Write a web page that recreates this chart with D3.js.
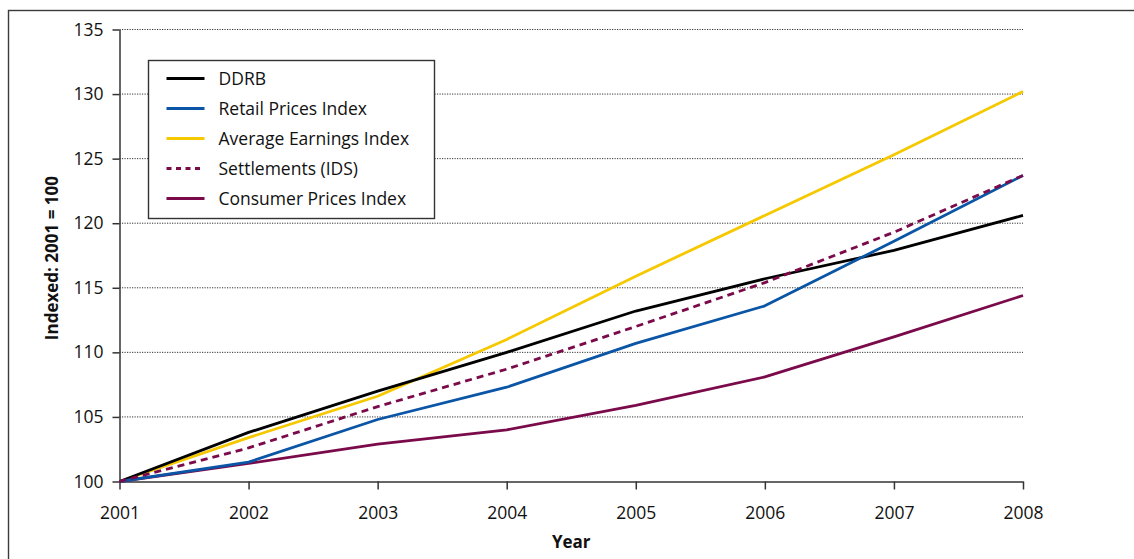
<!DOCTYPE html>
<html>
<head>
<meta charset="utf-8">
<script src="https://cdn.jsdelivr.net/npm/d3@7"></script>
<style>
  body { margin: 0; background: #fff; }
  svg { display: block; font-family: "Open Sans", "Noto Sans", sans-serif; }
</style>
</head>
<body>
<svg id="chart" width="1134" height="559"></svg>
<script>
// Index series, 2001 = 100
const years = [2001, 2002, 2003, 2004, 2005, 2006, 2007, 2008];
const ddrb        = [100, 103.8, 107.0, 110.0, 113.2, 115.7, 117.9, 120.6];
const retailPI    = [100, 101.5, 104.8, 107.3, 110.7, 113.6, 118.6, 123.7];
const earningsIdx = [100, 103.4, 106.6, 111.0, 115.9, 120.6, 125.3, 130.2];
const settlements = [100, 102.6, 105.8, 108.7, 112.0, 115.4, 119.3, 123.7];
const consumerPI  = [100, 101.4, 102.9, 104.0, 105.9, 108.1, 111.2, 114.4];
const yTicks = [100, 105, 110, 115, 120, 125, 130, 135];

const series = [
  { name: "DDRB", values: ddrb, color: "#000000", dash: null },
  { name: "Retail Prices Index", values: retailPI, color: "#0a55a5", dash: null },
  { name: "Average Earnings Index", values: earningsIdx, color: "#f5c800", dash: null },
  { name: "Settlements (IDS)", values: settlements, color: "#7a0a4a", dash: "7,5" },
  { name: "Consumer Prices Index", values: consumerPI, color: "#7a0a4a", dash: null }
];
// draw order: solid lines first, dashed on top of the blue
const drawOrder = [2, 0, 4, 1, 3];

const svg = d3.select("#chart");
const FONT = "\"Open Sans\", sans-serif";

// outer frame
svg.append("rect")
  .attr("x", 8.5).attr("y", 10.5)
  .attr("width", 1140).attr("height", 560)
  .attr("fill", "none").attr("stroke", "#3a3a3a").attr("stroke-width", 1.4);

const x = d3.scaleLinear().domain([2001, 2008]).range([119.5, 1023]);
const y = d3.scaleLinear().domain([100, 135]).range([481.5, 29.5]);

// dotted gridlines
svg.append("g").selectAll("line")
  .data(yTicks.filter(v => v > 100))
  .join("line")
  .attr("x1", x(2001)).attr("x2", x(2008))
  .attr("y1", d => y(d)).attr("y2", d => y(d))
  .attr("stroke", "#333").attr("stroke-width", 1)
  .attr("stroke-dasharray", "1.2,1.3");

// axes
const yAxis = svg.append("g")
  .attr("transform", `translate(${x(2001)},0)`)
  .call(d3.axisLeft(y).tickValues(yTicks).tickSize(7).tickPadding(9).tickSizeOuter(0));
const xAxis = svg.append("g")
  .attr("transform", `translate(0,${y(100)})`)
  .call(d3.axisBottom(x).tickValues(years).tickFormat(d3.format("d")).tickSize(8).tickPadding(17).tickSizeOuter(0));

[yAxis, xAxis].forEach(g => {
  g.attr("font-family", FONT).attr("font-size", 17.5);
  g.select(".domain").attr("stroke", "#333").attr("stroke-width", 1.5);
  g.selectAll(".tick line").attr("stroke", "#333").attr("stroke-width", 1.5);
  g.selectAll(".tick text").attr("fill", "#111");
});

// axis titles
svg.append("text")
  .attr("x", x(2004.5)).attr("y", 548)
  .attr("text-anchor", "middle")
  .attr("font-size", 17).attr("font-weight", "bold").attr("fill", "#111")
  .text("Year");
svg.append("text")
  .attr("transform", `translate(58,${y(117.3)}) rotate(-90)`)
  .attr("text-anchor", "middle")
  .attr("font-size", 17).attr("font-weight", "bold").attr("fill", "#111")
  .text("Indexed: 2001 = 100");

// series lines
const line = d3.line()
  .x((d, i) => x(years[i]))
  .y(d => y(d));

svg.append("g").selectAll("path")
  .data(drawOrder.map(i => series[i]))
  .join("path")
  .attr("d", d => line(d.values))
  .attr("fill", "none")
  .attr("stroke", d => d.color)
  .attr("stroke-width", 2.8)
  .attr("stroke-linejoin", "round")
  .attr("stroke-dasharray", d => d.dash);

// legend
const legend = svg.append("g").attr("transform", "translate(148.5,60.5)");
legend.append("rect")
  .attr("width", 286).attr("height", 158)
  .attr("fill", "#fff").attr("stroke", "#333").attr("stroke-width", 1.4);
const item = legend.selectAll("g.item")
  .data(series)
  .join("g")
  .attr("class", "item")
  .attr("transform", (d, i) => `translate(0,${18 + i * 30})`);
item.append("line")
  .attr("x1", 18).attr("x2", 56)
  .attr("stroke", d => d.color)
  .attr("stroke-width", 2.8)
  .attr("stroke-dasharray", d => d.dash ? "5,4.5" : null);
item.append("text")
  .attr("x", 70).attr("dy", "0.35em")
  .attr("font-size", 17.5).attr("fill", "#111")
  .text(d => d.name);
</script>
</body>
</html>
